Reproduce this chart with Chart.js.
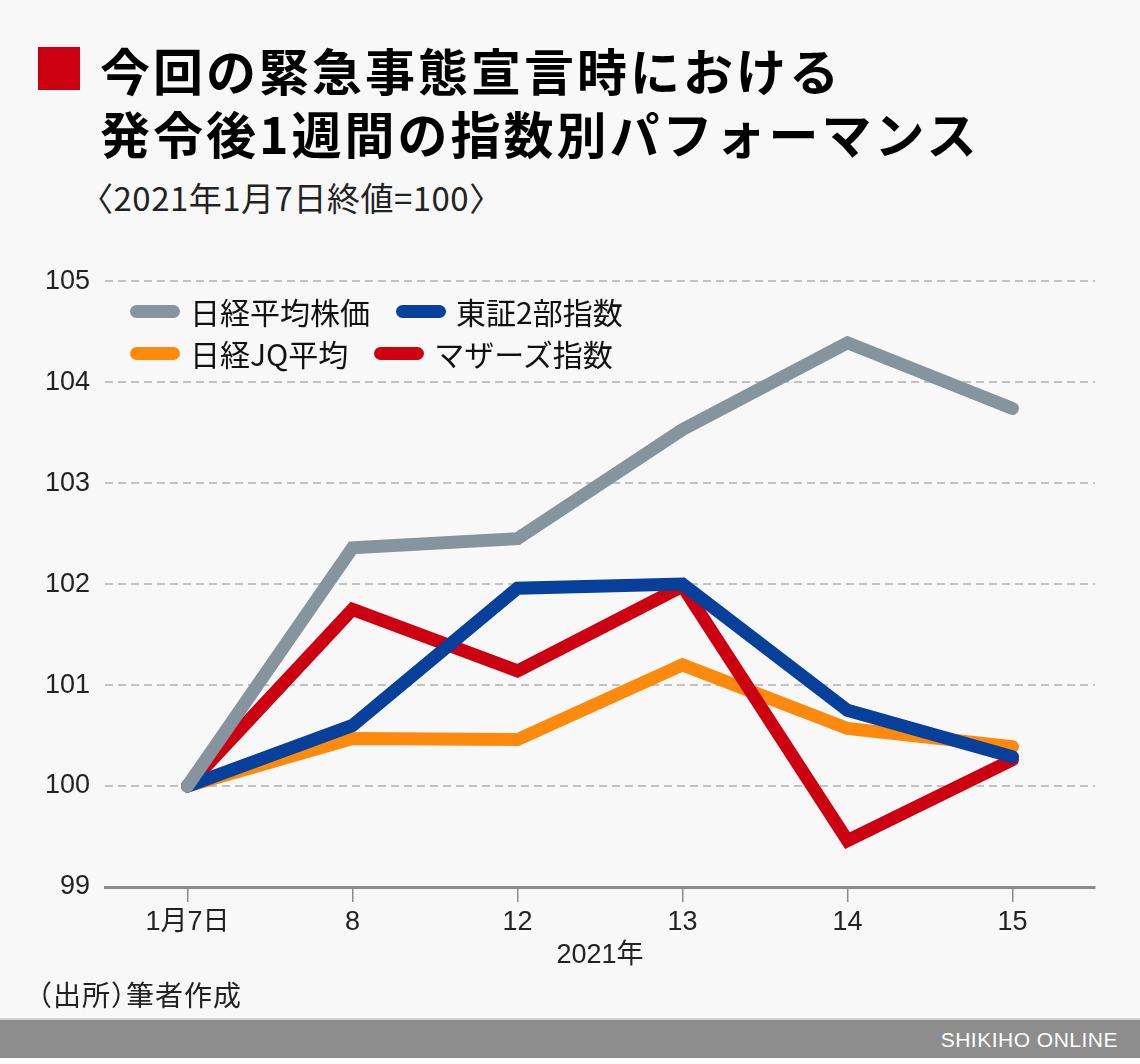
<!DOCTYPE html>
<html lang="ja">
<head>
<meta charset="UTF-8">
<title>発令後1週間の指数別パフォーマンス</title>
<script src="https://cdn.jsdelivr.net/npm/chart.js"></script>
<style>
  html, body { margin: 0; padding: 0; }
  body {
    width: 1140px; height: 1064px; position: relative; overflow: hidden;
    background: #ffffff;
    font-family: "Liberation Sans", "Noto Sans CJK JP", sans-serif;
    color: #111;
  }
  .panel { position: absolute; left: 0; top: 0; width: 1140px; height: 1018px; background: #f8f8f8; }
  .mark { position: absolute; left: 38px; top: 47px; width: 42px; height: 43px; background: #cc0011; }
  .title {
    position: absolute; left: 100px; top: 38px;
    font-family: "Noto Sans CJK JP", sans-serif; font-weight: 700;
    font-size: 50px; line-height: 63px; letter-spacing: 3px; color: #000;
  }
  .sub {
    position: absolute; left: 80px; top: 176px;
    font-family: "Noto Sans CJK JP", sans-serif;
    font-size: 33px; line-height: 42px; color: #222; letter-spacing: 0.5px;
  }
  .chart-box { position: absolute; left: 0; top: 250px; width: 1140px; height: 730px; }
  .legend { position: absolute; left: 130px; top: 290px; font-family: "Noto Sans CJK JP", sans-serif; font-size: 30px; color: #111; }
  .legend .row { display: flex; align-items: center; height: 42px; }
  .legend .item { display: flex; align-items: center; margin-right: 26px; }
  .legend .sw { display: inline-block; width: 50px; height: 13px; border-radius: 7px; margin-right: 10px; }
  .source {
    position: absolute; left: 38px; top: 976px;
    font-family: "Noto Sans CJK JP", sans-serif; font-feature-settings: "halt";
    font-size: 28px; line-height: 36px; color: #222; letter-spacing: 1px;
  }
  .footer {
    position: absolute; left: 0; top: 1018px; width: 1140px; height: 40px;
    background: #8d8d8d; border-top: 2px solid #d0d0d0; box-sizing: border-box;
  }
  .footer span {
    position: absolute; right: 22px; top: 8px;
    font-family: "Liberation Sans Narrow", "Liberation Sans", sans-serif;
    font-size: 21px; color: #fff; letter-spacing: 0.5px;
  }
</style>
</head>
<body>
<div class="panel"></div>
<div class="mark"></div>
<div class="title">今回の緊急事態宣言時における<br>発令後1週間の指数別パフォーマンス</div>
<div class="sub">〈2021年1月7日終値=100〉</div>
<div class="chart-box"><canvas id="chart"></canvas></div>
<div class="legend" id="legend"></div>
<div class="source">（出所）筆者作成</div>
<div class="footer"><span>SHIKIHO ONLINE</span></div>

<script>
// 2021年1月7日終値=100
const dates = ['1月7日', '8', '12', '13', '14', '15'];
const yTicks = [99, 100, 101, 102, 103, 104, 105];

const seriesNames = ['日経平均株価', '東証2部指数', '日経JQ平均', 'マザーズ指数'];
const nikkei  = [100, 102.36, 102.45, 103.53, 104.39, 103.74];
const tosho2  = [100, 100.60, 101.96, 102.00, 100.75, 100.29];
const jq      = [100, 100.47, 100.46, 101.20, 100.57, 100.39];
const mothers = [100, 101.75, 101.14, 101.98, 99.46, 100.26];

const colors = ['#85949d', '#06409a', '#fd8a0c', '#cc0011'];
const drawOrder = [0, 1, 3, 2]; // smaller = drawn on top

const allData = [nikkei, tosho2, jq, mothers];

// legend (2 rows like the original)
const legendRows = [[0, 1], [2, 3]];
const legendEl = document.getElementById('legend');
legendRows.forEach(function(row) {
  const r = document.createElement('div');
  r.className = 'row';
  row.forEach(function(i) {
    const it = document.createElement('div');
    it.className = 'item';
    it.innerHTML = '<span class="sw" style="background:' + colors[i] + '"></span>' + seriesNames[i];
    r.appendChild(it);
  });
  legendEl.appendChild(r);
});

const datasets = seriesNames.map(function(name, i) {
  return {
    label: name,
    data: allData[i],
    borderColor: colors[i],
    backgroundColor: colors[i],
    borderWidth: 13,
    borderCapStyle: 'round',
    borderJoinStyle: 'miter',
    pointRadius: 0,
    tension: 0,
    fill: false,
    order: drawOrder[i]
  };
});

const tickFont = { family: '"Liberation Sans", "Noto Sans CJK JP", sans-serif', size: 27 };

new Chart(document.getElementById('chart'), {
  type: 'line',
  data: { labels: dates, datasets: datasets },
  options: {
    responsive: true,
    maintainAspectRatio: false,
    animation: false,
    events: [],
    layout: { padding: { top: 20, right: 45, bottom: 6, left: 0 } },
    plugins: {
      legend: { display: false },
      tooltip: { enabled: false }
    },
    scales: {
      x: {
        offset: true,
        grid: {
          offset: false,
          drawOnChartArea: false,
          drawTicks: true,
          tickLength: 15,
          tickColor: '#8a8a8a',
          lineWidth: 1.5
        },
        border: { display: true, color: '#8a8a8a', width: 3 },
        ticks: { color: '#222', font: tickFont, padding: 4, maxRotation: 0 },
        title: {
          display: true,
          text: '2021年',
          color: '#222',
          font: tickFont,
          padding: { top: 0, bottom: 2 }
        },
        afterFit: function(scale) { scale.height = 87; }
      },
      y: {
        min: 99,
        max: 105,
        afterBuildTicks: function(scale) {
          scale.ticks = yTicks.map(function(v) { return { value: v }; });
        },
        grid: {
          color: '#c2c2c2',
          lineWidth: 2,
          drawTicks: false
        },
        border: { display: false, dash: [8, 5] },
        ticks: { color: '#222', font: tickFont, padding: 15 },
        afterFit: function(scale) { scale.width = 105; }
      }
    }
  }
});
</script>
</body>
</html>
